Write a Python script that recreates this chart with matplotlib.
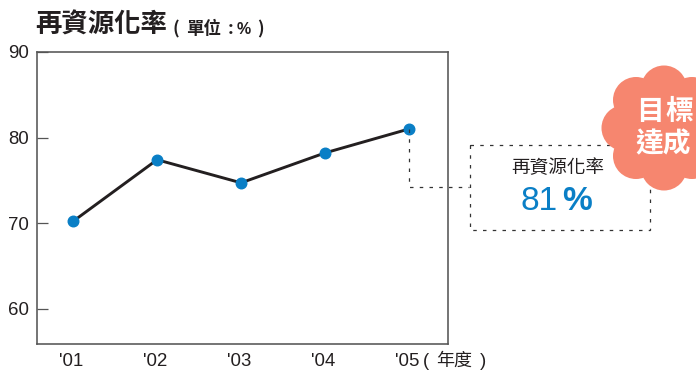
import matplotlib
matplotlib.use('Agg')
import matplotlib.pyplot as plt
from matplotlib.patches import Circle, Rectangle

plt.rcParams['font.family'] = ['Liberation Sans', 'Noto Sans CJK TC', 'DejaVu Sans']

years = ["'01", "'02", "'03", "'04", "'05"]
rate = [70.2, 77.4, 74.7, 78.2, 81]
yticks = [60, 70, 80, 90]

W, H = 696, 372
cjk = ['Noto Sans CJK TC']
ink = '#231f20'
blue = '#0a7fc6'
fig = plt.figure(figsize=(W / 100, H / 100), dpi=100)

# overlay in pixel coordinates for the callout and flower
bg = fig.add_axes([0, 0, 1, 1], zorder=3)
bg.set_xlim(0, W)
bg.set_ylim(H, 0)
bg.axis('off')
bg.patch.set_alpha(0)

ax = fig.add_axes([37 / W, 1 - 344 / H, 411 / W, 292 / H], zorder=1)
ax.plot(range(len(rate)), rate, color=ink, lw=2.1, marker='o', ms=7.6,
        mfc=blue, mec=blue, solid_capstyle='round', zorder=3, clip_on=False)
ax.set_xlim(-0.43, 4.464)
ax.set_ylim(55.85, 90)
ax.set_yticks(yticks)
ax.set_xticks([])
ax.tick_params(axis='y', direction='in', length=8, width=0.9, color='#555555',
               labelsize=13.4, pad=6, labelcolor=ink)
for s in ax.spines.values():
    s.set_color('#555555')
    s.set_linewidth(1.15)

for i, lab in enumerate(years):
    px = ax.transData.transform((i, 60))[0]
    bg.text(px - 1.5, 361, lab, ha='center', va='center', fontsize=13.4, color=ink)
bg.text(423, 362, '(', ha='left', va='center', fontsize=13.2, color=ink)
bg.text(454, 361, '年度', ha='center', va='center', fontsize=13, family=cjk, color=ink)
bg.text(480, 362, ')', ha='left', va='center', fontsize=13.2, color=ink)

# title and unit
bg.text(35, 25, '再資源化率', ha='left', va='center', fontsize=19, fontweight='bold',
        family=cjk, color=ink)
unit_parts = [('(', 173), ('單位', 186), (':', 228), (')', 257)]
for part, px in unit_parts:
    bg.text(px, 29, part, ha='left', va='center', fontsize=12.6, fontweight='bold',
            family=cjk, color=ink)
bg.text(237, 29, '%', ha='left', va='center', fontsize=11.5, fontweight='bold',
        family=['Liberation Sans'], color=ink)

# connector from the last point to the callout box
last_px = ax.transData.transform((len(rate) - 1, rate[-1]))
sx = last_px[0]
sy = H - last_px[1]
dash = (0, (2.8, 5.0))
bg.plot([sx, sx, 469], [sy, 187, 187], color='#333333', lw=0.9, ls=dash, zorder=1)
bg.add_patch(Rectangle((469.5, 144.5), 180, 85.5, fill=False, ec='#333333', lw=0.9, ls=dash, zorder=1))
bg.text(558, 168, '再資源化率', ha='center', va='center', fontsize=13.4, family=cjk, color=ink, zorder=2)
bg.text(539, 201, '81', ha='center', va='center', fontsize=24, color=blue, zorder=2)
bg.text(577, 201, '%', ha='center', va='center', fontsize=24, fontweight='bold', color=blue, zorder=2)

# flower badge
flower = '#f6866f'
lobes = [(664, 88.5), (636, 100), (624.5, 128), (636, 156), (664, 167.5), (692, 156), (703.5, 128), (692, 100)]
for c in lobes:
    bg.add_patch(Circle(c, 23, fc=flower, ec='none', zorder=4))
bg.add_patch(Circle((664, 128), 43, fc=flower, ec='none', zorder=4))
bg.text(650, 112, '目', ha='center', va='center', fontsize=20, fontweight='bold',
        family=cjk, color='white', zorder=5)
bg.text(679, 112, '標', ha='center', va='center', fontsize=20, fontweight='bold',
        family=cjk, color='white', zorder=5)
bg.text(663, 144, '達成', ha='center', va='center', fontsize=20, fontweight='bold',
        family=cjk, color='white', zorder=5)

fig.savefig('out.png', dpi=100)
